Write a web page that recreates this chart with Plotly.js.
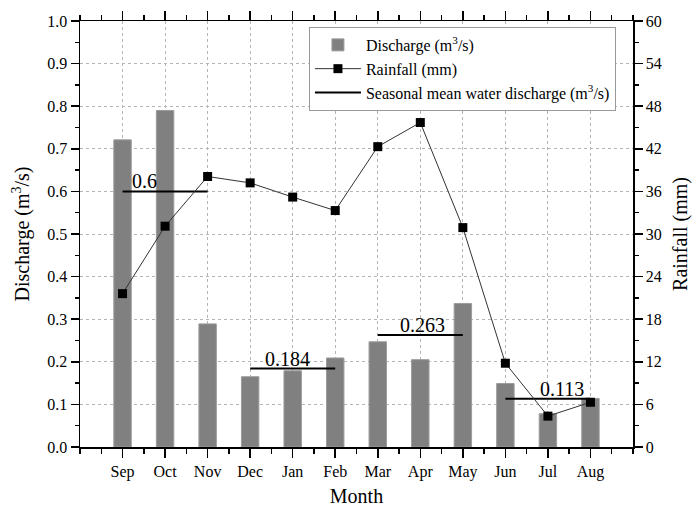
<!DOCTYPE html>
<html>
<head>
<meta charset="utf-8">
<script src="https://cdn.plot.ly/plotly-3.0.1.min.js"></script>
<style>html,body{margin:0;padding:0;background:#fff;}#chart{width:695px;height:507px;}</style>
</head>
<body>
<div id="chart"></div>
<script>
// ---- data ----
const months = ['Sep','Oct','Nov','Dec','Jan','Feb','Mar','Apr','May','Jun','Jul','Aug'];
const discharge = [0.721, 0.790, 0.289, 0.165, 0.179, 0.209, 0.247, 0.205, 0.337, 0.149, 0.078, 0.114];
const rainfall = [21.6, 31.1, 38.1, 37.2, 35.2, 33.3, 42.3, 45.7, 30.9, 11.8, 4.35, 6.3];
const seasonStart = ['Sep','Dec','Mar','Jun'];
const seasonEnd = ['Nov','Feb','May','Aug'];
const seasonMean = [0.6, 0.184, 0.263, 0.113];
const seasonLabels = ['0.6','0.184','0.263','0.113'];
const seasonLabelPos = [0.52, 3.88, 7.05, 10.32];
const yTicksLeft = [0,0.1,0.2,0.3,0.4,0.5,0.6,0.7,0.8,0.9,1.0];
const yTicksRight = [0,6,12,18,24,30,36,42,48,54,60];

// ---- build ----
const idx = months.map((m,i)=>i);
const FONT = 'Liberation Serif';

const meanX = [], meanY = [];
seasonStart.forEach((s,k)=>{
  meanX.push(months.indexOf(s), months.indexOf(seasonEnd[k]), null);
  meanY.push(seasonMean[k], seasonMean[k], null);
});

const traces = [
  {type:'bar', x: idx, y: discharge, name:'Discharge (m<sup>3</sup>/s)', width:0.41,
   marker:{color:'#808080', line:{color:'#9c9c9c', width:1}}, yaxis:'y'},
  {type:'scatter', mode:'lines+markers', x: idx, y: rainfall, name:'Rainfall (mm)', yaxis:'y2',
   line:{color:'#333', width:1}, marker:{symbol:'square', size:9, color:'#000'}},
  {type:'scatter', mode:'lines', x: meanX, y: meanY, name:'Seasonal mean water discharge (m<sup>3</sup>/s)',
   yaxis:'y', line:{color:'#000', width:2}, connectgaps:false}
];

const annotations = seasonLabels.map((t,k)=>({
  x: seasonLabelPos[k], y: seasonMean[k], xref:'x', yref:'y', text:t, showarrow:false,
  xanchor:'center', yanchor:'bottom', yshift:-3, font:{family:FONT, size:20, color:'#000'}
}));

const gridStyle = {showgrid:true, gridcolor:'#b5b5b5', gridwidth:1, griddash:'3px,3px'};

const layout = {
  width:695, height:507,
  margin:{l:80, r:62, t:21, b:60},
  paper_bgcolor:'#fff', plot_bgcolor:'#fff',
  font:{family:FONT, size:15, color:'#000'},
  showlegend:true,
  legend:{x:0.414, y:0.986, xanchor:'left', yanchor:'top', bgcolor:'#fff',
    bordercolor:'#999', borderwidth:1, font:{family:FONT, size:16, color:'#000'},
    itemwidth:46},
  xaxis:Object.assign({
    range:[-1,12], tickmode:'array', tickvals: idx, ticktext: months,
    ticks:'outside', ticklen:9, tickwidth:1.5, tickcolor:'#000',
    showline:true, linecolor:'#000', linewidth:1.5, mirror:'ticks',
    zeroline:false, tickfont:{family:FONT, size:16, color:'#000'},
    minor:{dtick:0.5, tick0:0, ticks:'outside', ticklen:5, tickwidth:1.5, tickcolor:'#000', showgrid:false},
    title:{text:'Month', font:{family:FONT, size:20, color:'#000'}, standoff:14}
  }, gridStyle),
  yaxis:Object.assign({
    range:[0,1], tickmode:'array', tickvals:yTicksLeft, ticktext: yTicksLeft.map(v=>v.toFixed(1)),
    ticks:'outside', ticklen:8, tickwidth:1.5, tickcolor:'#000',
    showline:true, linecolor:'#000', linewidth:1.5, zeroline:false,
    minor:{dtick:0.05, tick0:0, ticks:'outside', ticklen:4, tickwidth:1.5, tickcolor:'#000', showgrid:false},
    tickfont:{family:FONT, size:16, color:'#000'},
    title:{text:'Discharge (m<sup>3</sup>/s)', font:{family:FONT, size:20, color:'#000'}, standoff:12}
  }, gridStyle),
  yaxis2:{
    overlaying:'y', side:'right', range:[0,60], tickmode:'array', tickvals:yTicksRight,
    ticks:'outside', ticklen:8, tickwidth:1.5, tickcolor:'#000',
    showline:true, linecolor:'#000', linewidth:1.5, zeroline:false, showgrid:false,
    minor:{dtick:3, tick0:0, ticks:'outside', ticklen:4, tickwidth:1.5, tickcolor:'#000', showgrid:false},
    tickfont:{family:FONT, size:16, color:'#000'},
    title:{text:'Rainfall (mm)', font:{family:FONT, size:20, color:'#000'}, standoff:12}
  },
  annotations: annotations
};

Plotly.newPlot('chart', traces, layout, {displayModeBar:false, staticPlot:true});
</script>
</body>
</html>
